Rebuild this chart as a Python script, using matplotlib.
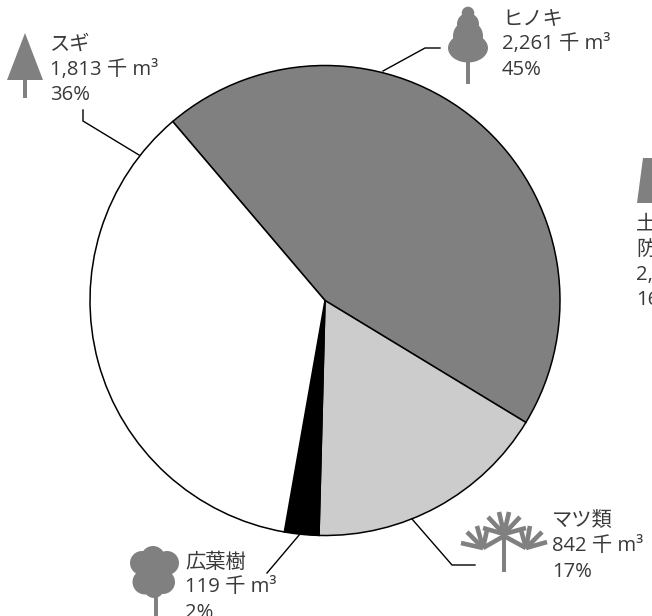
import matplotlib
matplotlib.use("Agg")
import matplotlib.pyplot as plt
from matplotlib.patches import Circle, Ellipse, Polygon, Rectangle

plt.rcParams['font.family'] = ['Open Sans', 'Noto Sans CJK JP', 'DejaVu Sans']

# --- data ---
species = ["ヒノキ", "マツ類", "広葉樹", "スギ"]
volumes = [2261, 842, 119, 1813]
percents = [45, 17, 2, 36]
slice_colors = ["#808080", "#cccccc", "#000000", "#ffffff"]

W, H = 652, 616
GRAY = "#808080"
TEXT = "#3a3a3a"
FS = 14.6


def flip(y):
    # the reference was measured from the top
    return H - y


fig = plt.figure(figsize=(W / 100, H / 100), dpi=100)
ax = fig.add_axes([0, 0, 1, 1])

ax.pie(volumes, colors=slice_colors, startangle=130.4, counterclock=False,
       center=(325, flip(300.5)), radius=235,
       wedgeprops=dict(edgecolor="black", linewidth=1.1))
ax.set_xlim(0, W)
ax.set_ylim(0, H)
ax.set_aspect("equal")
ax.axis("off")


def leader(points):
    ax.plot([p[0] for p in points], [flip(p[1]) for p in points],
            color="black", lw=1.0, solid_joinstyle="miter")


def poly(points):
    ax.add_patch(Polygon([(x, flip(y)) for x, y in points], fc=GRAY, ec="none"))


def circles(items):
    for x, y, r in items:
        ax.add_patch(Circle((x, flip(y)), r, fc=GRAY, ec="none"))


def trunk(x0, x1, y0, y1):
    ax.add_patch(Rectangle((x0, flip(y1)), x1 - x0, y1 - y0, fc=GRAY, ec="none"))


def spokes(start, ends):
    for end in ends:
        ax.plot([start[0], end[0]], [flip(start[1]), flip(end[1])],
                color=GRAY, lw=3.3, solid_capstyle="butt")


def label(x, baselines, lines):
    for y, s in zip(baselines, lines):
        ax.text(x, flip(y), s, fontsize=FS, color=TEXT, va="baseline", ha="left")


def name_lines(i):
    return [species[i], f"{volumes[i]:,} 千 m³", f"{percents[i]}%"]


# leader lines
leader([(383, 71), (425, 48), (440, 48)])
leader([(139, 155), (83, 121), (83, 110)])
leader([(412, 519), (452, 565), (475, 565)])
leader([(300, 534), (267, 573)])

# sugi icon
poly([(25, 33), (43, 80), (7, 80)])
trunk(23, 27, 80, 98)

# hinoki icon
circles([(468, 13, 6.3), (468, 24, 11), (468, 36, 15)])
ax.add_patch(Ellipse((468, flip(48)), 40, 29, fc=GRAY, ec="none"))
trunk(466, 470, 60, 84)

# cut off icon at the right edge
poly([(643, 158), (652, 158), (652, 203), (637, 203)])

# hiroha icon
circles([(153, 558, 12), (142, 563, 12), (167, 563, 12), (145, 582, 12.5),
         (163, 582, 12), (154, 588, 10), (154, 572, 15)])
trunk(154, 158, 595, 616)

# matsu icon
trunk(502, 506, 523, 572)
spokes((504, 534), [(499, 512), (509, 512), (488, 517), (520, 517), (483, 528), (526, 528)])
spokes((483, 548), [(461, 543), (467, 532), (477, 526), (487, 530), (504, 536)])
spokes((526, 548), [(547, 542), (542, 532), (530, 526), (521, 530), (504, 536)])

# labels
label(502, [24, 49, 75], name_lines(0))
label(552, [526, 551, 577], name_lines(1))
label(185, [568, 592, 618], name_lines(2))
label(50, [50, 75, 100], name_lines(3))
label(636, [230, 255, 280, 305], ["土", "防", "2,", "16"])

fig.savefig("out.png", dpi=100)
